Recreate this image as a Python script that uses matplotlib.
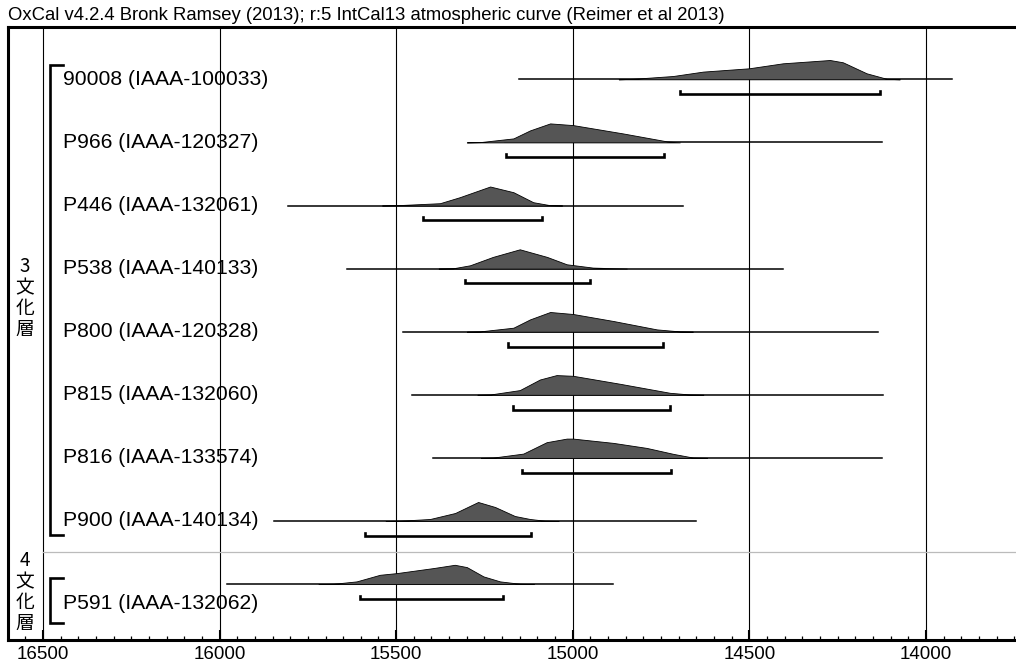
import numpy as np
import matplotlib
matplotlib.use("Agg")
import matplotlib.pyplot as plt
from matplotlib.ticker import MultipleLocator

plt.rcParams['font.family'] = ['Liberation Sans', 'Noto Sans CJK JP', 'DejaVu Sans']

title = "OxCal v4.2.4 Bronk Ramsey (2013); r:5 IntCal13 atmospheric curve (Reimer et al 2013)"

names = ["90008 (IAAA-100033)", "P966 (IAAA-120327)", "P446 (IAAA-132061)",
         "P538 (IAAA-140133)", "P800 (IAAA-120328)", "P815 (IAAA-132060)",
         "P816 (IAAA-133574)", "P900 (IAAA-140134)", "P591 (IAAA-132062)"]

# extent of the plotted likelihood (cal BP)
span_from = [15151, 15192, 15805, 15639, 15480, 15456, 15395, 15846, 15980]
span_to = [13925, 14124, 14687, 14405, 14137, 14121, 14125, 14652, 14885]

# 95.4% ranges (brackets)
range_from = [14696, 15190, 15425, 15305, 15182, 15168, 15145, 15588, 15602]
range_to = [14130, 14741, 15086, 14951, 14744, 14725, 14722, 15118, 15198]

# probability curves (years, relative height)
dens_years = [
    [14870, 14829, 14716, 14631, 14501, 14405, 14272, 14235, 14168, 14111, 14074],
    [15300, 15262, 15168, 15121, 15064, 14999, 14858, 14733, 14697],
    [15540, 15498, 15376, 15320, 15234, 15168, 15112, 15064, 15030],
    [15380, 15339, 15291, 15226, 15150, 15073, 15017, 14943, 14847],
    [15300, 15263, 15168, 15121, 15064, 14999, 14885, 14762, 14697, 14660],
    [15270, 15234, 15150, 15093, 15046, 14999, 14866, 14725, 14668, 14630],
    [15260, 15226, 15140, 15074, 15017, 14999, 14885, 14791, 14715, 14659, 14620],
    [15530, 15489, 15404, 15333, 15268, 15220, 15164, 15121, 15079, 15040],
    [15720, 15678, 15612, 15546, 15498, 15395, 15334, 15300, 15253, 15206, 15149, 15110],
]
dens_vals = [
    [0, 0.5, 3.3, 7.7, 11, 16, 19.3, 17, 6, 0.5, 0],
    [0, 0.3, 4, 12, 19, 17.3, 9, 1, 0],
    [0, 0.3, 2.3, 8.3, 19, 13.3, 3.3, 0.3, 0],
    [0, 0.3, 3.3, 11.7, 19.3, 11.7, 4.3, 1, 0],
    [0, 0.3, 4, 12.3, 19.7, 17.7, 10.7, 2.3, 0.3, 0],
    [0, 0.3, 4.7, 15.3, 19.7, 19, 11, 2, 0.3, 0],
    [0, 0.3, 4.3, 15.7, 19.3, 19.3, 15, 10, 4, 0.3, 0],
    [0, 0.3, 2, 8, 19, 14, 5, 2, 0.3, 0],
    [0, 0.3, 2.7, 9.3, 11, 16, 19.3, 17, 7.7, 2.7, 0.3, 0],
]

groups = ["3文化層", "4文化層"]

ROW_PX = 63.1
fig = plt.figure(figsize=(10.16, 6.68), dpi=100)
ax = fig.add_axes([8 / 1016, 1 - 640 / 668, 1008 / 1016, 613 / 668])
ax.set_xlim(16599, 13745)
ax.set_ylim(8.886, -0.829)

ax.xaxis.set_major_locator(MultipleLocator(500))
ax.xaxis.set_minor_locator(MultipleLocator(50))
ax.tick_params(axis='x', which='major', direction='in', length=7.5, width=1.5,
               labelsize=13.5, pad=4, top=False)
ax.tick_params(axis='x', which='minor', direction='in', length=3, width=0.9, top=False)
ax.set_yticks([])
ax.grid(axis='x', which='major', color='black', lw=0.8)
ax.set_axisbelow(True)
for s in ['left', 'top', 'bottom']:
    ax.spines[s].set_linewidth(2.2)
ax.spines['right'].set_visible(False)

for i in range(len(names)):
    ax.plot([span_from[i], span_to[i]], [i, i], color='black', lw=1.1, zorder=3)
    yy = np.array(dens_vals[i]) / ROW_PX
    ax.fill_between(dens_years[i], i - yy, i, facecolor='#555555',
                    edgecolor='black', lw=0.6, zorder=4)
    by = i + 0.235
    ax.plot([range_from[i], range_from[i], range_to[i], range_to[i]],
            [by - 0.05, by, by, by - 0.05], color='black', lw=1.9,
            solid_joinstyle='miter', zorder=3)
    ly = i + (0.3 if i == len(names) - 1 else 0)
    ax.text(16443, ly, names[i], fontsize=15.2, va='center', ha='left', zorder=5)

# group separator
ax.plot([16500, 13745], [7.49, 7.49], color='#bbbbbb', lw=0.9, zorder=2)

# group brackets and labels
brackets = [(-0.23, 7.22), (7.90, 8.61)]
label_centers = [3.466, 8.125]
for g, (top, bot) in enumerate(brackets):
    ax.plot([16443, 16480, 16480, 16443], [top, top, bot, bot], color='black',
            lw=1.9, solid_joinstyle='miter', zorder=5)
    for k, ch in enumerate(groups[g]):
        yk = label_centers[g] + (k - 1.5) * 0.333
        ax.text(16551, yk, ch, fontsize=13.5, ha='center', va='center',
                family=['Noto Sans CJK JP', 'DejaVu Sans'])

fig.text(8 / 1016, 1 - 20 / 668, title, fontsize=13.3, ha='left', va='baseline')

fig.savefig("out.png", dpi=100)
